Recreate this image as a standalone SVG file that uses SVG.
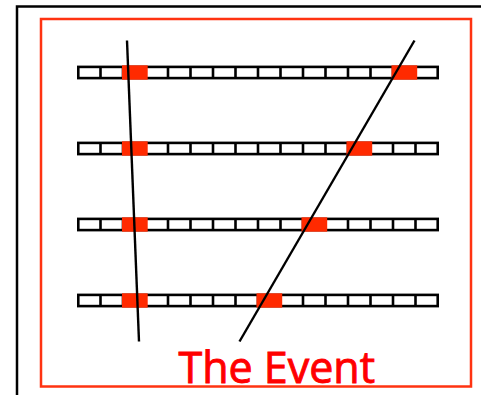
<svg xmlns="http://www.w3.org/2000/svg" width="481" height="395" viewBox="0 0 481 395">
<style>
.frame{fill:none;stroke:#000;stroke-width:2.5}
.red{fill:none;stroke:#FF3311;stroke-width:2.5}
.cell{fill:#fff;stroke:#000;stroke-width:2.6}
.hit{fill:#FF2A00}
.track{fill:none;stroke:#000;stroke-width:2.4}
.title{font-family:"Comic Sans MS","Open Sans","DejaVu Sans",sans-serif;font-size:43px;fill:#FF0000;stroke:#FF0000;stroke-width:0.9}
</style>
<defs>
<g id="bar">
<rect class="cell" x="78.3" y="-5.6" width="359.4" height="11.2"/>
<path d="M100.5,-5.6V5.6M123,-5.6V5.6M145.5,-5.6V5.6M168,-5.6V5.6M190.5,-5.6V5.6M213,-5.6V5.6M235.5,-5.6V5.6M258,-5.6V5.6M280.5,-5.6V5.6M303,-5.6V5.6M325.5,-5.6V5.6M348,-5.6V5.6M370.5,-5.6V5.6M393,-5.6V5.6M415.5,-5.6V5.6" stroke="#000" stroke-width="2.6"/>
</g>
</defs>
<rect width="481" height="395" fill="#fff"/>
<path class="frame" d="M17,395V6.5H481"/>
<rect class="red" x="41" y="19" width="430" height="367.5"/>
<g id="row1">
<use href="#bar" y="72.5"/>
<rect class="hit" x="122" y="65.3" width="25.7" height="14.4"/>
<rect class="hit" x="391.5" y="65.3" width="25.7" height="14.4"/>
</g>
<g id="row2">
<use href="#bar" y="148.5"/>
<rect class="hit" x="122" y="141.3" width="25.7" height="14.4"/>
<rect class="hit" x="346.5" y="141.3" width="25.7" height="14.4"/>
</g>
<g id="row3">
<use href="#bar" y="224.5"/>
<rect class="hit" x="122" y="217.3" width="25.7" height="14.4"/>
<rect class="hit" x="301.5" y="217.3" width="25.7" height="14.4"/>
</g>
<g id="row4">
<use href="#bar" y="300.5"/>
<rect class="hit" x="122" y="293.3" width="25.7" height="14.4"/>
<rect class="hit" x="256.5" y="293.3" width="25.7" height="14.4"/>
</g>
<g id="connectors">
<line class="track" x1="127" y1="40.5" x2="139" y2="341.5"/>
<line class="track" x1="414.5" y1="40.5" x2="239.5" y2="341.5"/>
</g>
<g id="label">
<text class="title" x="178.5" y="383" textLength="196.5" lengthAdjust="spacingAndGlyphs">The Event</text>
</g>
</svg>
